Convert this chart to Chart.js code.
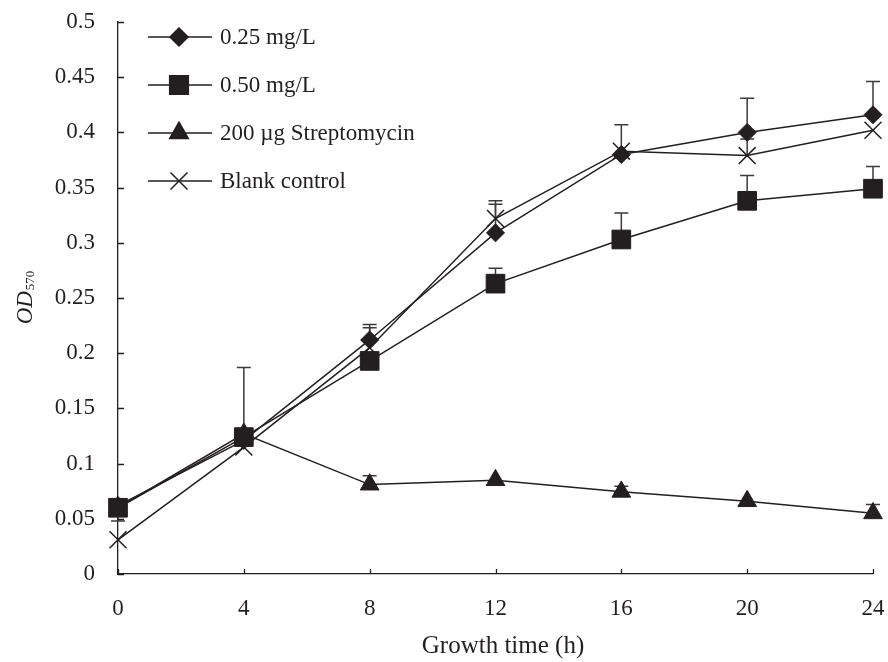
<!DOCTYPE html>
<html>
<head>
<meta charset="utf-8">
<script src="https://cdn.jsdelivr.net/npm/chart.js@4.4.0/dist/chart.umd.min.js"></script>
<style>
  html, body { margin: 0; padding: 0; background: #fff; }
</style>
</head>
<body>
<canvas id="chart" width="888" height="662"></canvas>
<script>
// sampling times (h) and axis ticks
const times = [0, 4, 8, 12, 16, 20, 24];
const xTicks = [0, 4, 8, 12, 16, 20, 24];
const yTicks = [0, 0.05, 0.1, 0.15, 0.2, 0.25, 0.3, 0.35, 0.4, 0.45, 0.5];

const names = ['0.25 mg/L', '0.50 mg/L', '200 \u00b5g Streptomycin', 'Blank control'];

// OD570 readings and upper error bars
const dose025 = [0.062, 0.121, 0.212, 0.309, 0.380, 0.400, 0.416];
const dose025Err = [0, 0, 0.014, 0.026, 0.027, 0.031, 0.030];
const dose050 = [0.060, 0.124, 0.193, 0.263, 0.303, 0.338, 0.349];
const dose050Err = [0, 0.063, 0, 0.014, 0.024, 0.023, 0.020];
const dose050ErrLow = [0.012, 0, 0, 0, 0, 0, 0];
const strep = [0.060, 0.127, 0.081, 0.085, 0.0745, 0.066, 0.055];
const strepErr = [0, 0, 0.008, 0, 0.005, 0, 0.008];
const blank = [0.031, 0.115, 0.205, 0.322, 0.383, 0.379, 0.402];
const blankErr = [0, 0, 0.018, 0.016, 0, 0.015, 0];

const ink = '#231f20';
const serif = '"Liberation Serif", "Times New Roman", serif';

const styles = [
  { pointStyle: 'rectRot', r: 9 },
  { pointStyle: 'rect', r: 13.2 },
  { pointStyle: 'triangle', r: 10.8 },
  { pointStyle: 'crossRot', r: 12 }
];
const values = [dose025, dose050, strep, blank];
const errUp = [dose025Err, dose050Err, strepErr, blankErr];
const errDown = [null, dose050ErrLow, null, null];

const datasets = values.map((vals, i) => ({
  label: names[i],
  data: times.map((t, j) => ({ x: t, y: vals[j] })),
  borderColor: ink,
  backgroundColor: ink,
  borderWidth: 1.5,
  pointStyle: styles[i].pointStyle,
  pointRadius: styles[i].r,
  pointHoverRadius: styles[i].r,
  pointBackgroundColor: ink,
  pointBorderColor: ink,
  pointBorderWidth: i === 3 ? 1.5 : 1,
  tension: 0,
  clip: false
}));

const errorBars = {
  id: 'errorBars',
  beforeDatasetsDraw(chart) {
    const { ctx, scales: { x, y } } = chart;
    ctx.save();
    ctx.strokeStyle = '#3a3a3a';
    ctx.lineWidth = 1.5;
    values.forEach((vals, i) => {
      vals.forEach((v, j) => {
        const px = x.getPixelForValue(times[j]);
        const py = y.getPixelForValue(v);
        const bars = [];
        if (errUp[i][j]) bars.push(v + errUp[i][j]);
        if (errDown[i] && errDown[i][j]) bars.push(v - errDown[i][j]);
        bars.forEach(end => {
          const pe = y.getPixelForValue(end);
          ctx.beginPath();
          ctx.moveTo(px, py);
          ctx.lineTo(px, pe);
          ctx.moveTo(px - 7, pe);
          ctx.lineTo(px + 7, pe);
          ctx.stroke();
        });
      });
    });
    ctx.restore();
  }
};

function marker(ctx, style, r, cx, cy) {
  if (Chart.helpers && Chart.helpers.drawPoint) {
    Chart.helpers.drawPoint(ctx, { pointStyle: style, radius: r, rotation: 0, borderWidth: 1.5 }, cx, cy);
  }
}

const decorations = {
  id: 'decorations',
  afterDraw(chart) {
    const { ctx, chartArea: a, scales: { x, y } } = chart;
    ctx.save();
    ctx.strokeStyle = ink;
    ctx.lineWidth = 1.3;
    ctx.beginPath();
    xTicks.forEach(v => {
      const px = Math.round(x.getPixelForValue(v)) + 0.5;
      ctx.moveTo(px, a.bottom);
      ctx.lineTo(px, a.bottom - 5);
    });
    yTicks.forEach(v => {
      const py = Math.round(y.getPixelForValue(v)) + 0.5;
      ctx.moveTo(a.left, py);
      ctx.lineTo(a.left + 6, py);
    });
    ctx.stroke();

    // legend: line through marker
    const rows = [37, 85, 133, 181];
    ctx.fillStyle = ink;
    ctx.font = '23px ' + serif;
    ctx.textBaseline = 'middle';
    ctx.textAlign = 'left';
    names.forEach((n, i) => {
      ctx.lineWidth = 1.5;
      ctx.beginPath();
      ctx.moveTo(148, rows[i]);
      ctx.lineTo(212, rows[i]);
      ctx.stroke();
      ctx.fillStyle = ink;
      ctx.strokeStyle = ink;
      marker(ctx, styles[i].pointStyle, styles[i].r, 179, rows[i]);
      ctx.fillStyle = ink;
      ctx.fillText(n, 220, rows[i] + 1);
    });

    // axis titles
    ctx.textAlign = 'center';
    ctx.font = '25px ' + serif;
    ctx.fillText('Growth time (h)', 503, 646);

    ctx.translate(32, (a.top + a.bottom) / 2);
    ctx.rotate(-Math.PI / 2);
    ctx.textBaseline = 'alphabetic';
    ctx.textAlign = 'left';
    ctx.font = 'italic 23px ' + serif;
    const w1 = ctx.measureText('OD').width;
    ctx.font = '13px ' + serif;
    const w2 = ctx.measureText('570').width;
    const start = -(w1 + w2) / 2;
    ctx.font = 'italic 23px ' + serif;
    ctx.fillText('OD', start, 0);
    ctx.font = '13px ' + serif;
    ctx.fillText('570', start + w1 + 1, 2);
    ctx.restore();
  }
};

new Chart(document.getElementById('chart'), {
  type: 'line',
  data: { datasets },
  options: {
    responsive: false,
    animation: false,
    devicePixelRatio: 1,
    layout: { padding: { top: 22, right: 15, left: 0, bottom: 0 } },
    plugins: { legend: { display: false }, tooltip: { enabled: false } },
    scales: {
      x: {
        type: 'linear',
        min: 0,
        max: 24,
        afterBuildTicks: s => { s.ticks = xTicks.map(v => ({ value: v })); },
        afterFit: s => { s.height = 88; s.paddingLeft = 0; s.paddingRight = 0; },
        grid: { display: false, drawTicks: false },
        border: { display: true, color: ink, width: 1.3 },
        ticks: { color: ink, font: { family: serif, size: 23 }, padding: 21, maxRotation: 0 }
      },
      y: {
        min: 0,
        max: 0.5,
        afterBuildTicks: s => { s.ticks = yTicks.map(v => ({ value: v })); },
        afterFit: s => { s.width = 118; s.paddingTop = 0; s.paddingBottom = 0; },
        grid: { display: false, drawTicks: false },
        border: { display: true, color: ink, width: 1.3 },
        ticks: { color: ink, font: { family: serif, size: 23 }, padding: 23, callback: v => String(v) }
      }
    }
  },
  plugins: [errorBars, decorations]
});
</script>
</body>
</html>
